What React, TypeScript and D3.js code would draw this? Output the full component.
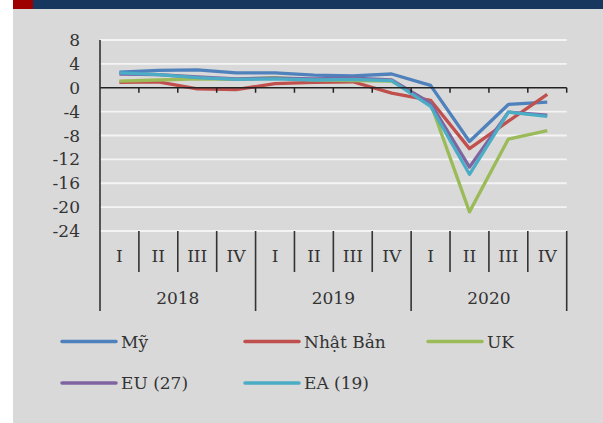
import React from "react";
import * as d3 from "d3";

const quarters = ["I", "II", "III", "IV", "I", "II", "III", "IV", "I", "II", "III", "IV"];
const years = ["2018", "2019", "2020"];
const yTicks = [8, 4, 0, -4, -8, -12, -16, -20, -24];

const seriesNames = ["Mỹ", "Nhật Bản", "UK", "EU (27)", "EA (19)"];
const seriesColors = ["#4f81bd", "#c0504d", "#9bbb59", "#8064a2", "#4bacc6"];
const my = [2.6, 2.9, 3.0, 2.5, 2.5, 2.1, 2.0, 2.3, 0.4, -9.0, -2.8, -2.4];
const nhatBan = [0.9, 1.0, -0.2, -0.3, 0.7, 0.9, 1.0, -0.9, -2.1, -10.2, -5.6, -1.1];
const uk = [1.1, 1.3, 1.5, 1.4, 1.7, 1.3, 1.2, 1.1, -2.6, -20.8, -8.6, -7.2];
const eu27 = [2.3, 2.2, 1.8, 1.5, 1.6, 1.5, 1.6, 1.3, -2.6, -13.3, -4.1, -4.6];
const ea19 = [2.5, 2.2, 1.7, 1.4, 1.5, 1.3, 1.4, 1.2, -3.1, -14.5, -4.1, -4.8];
const seriesValues = [my, nhatBan, uk, eu27, ea19];

const W = 603;
const H = 423;
const FONT = "'DejaVu Serif', serif";
const TXT = "#333333";
const FS = 17;

export default function App() {
  const left = 100;
  const right = 566.7;
  const top = 40;
  const bottom = 231;
  const x = d3.scaleBand<number>().domain(d3.range(quarters.length)).range([left, right]).padding(0);
  const y = d3.scaleLinear().domain([-24, 8]).range([bottom, top]);
  const bw = x.bandwidth();
  const line = d3
    .line<number>()
    .x((_, i) => (x(i) as number) + bw / 2)
    .y((d) => y(d))
    .curve(d3.curveLinear);

  const legendPos = [
    { lx: 62, ly: 341.5 },
    { lx: 245, ly: 341.5 },
    { lx: 428, ly: 341.5 },
    { lx: 62, ly: 383 },
    { lx: 245, ly: 383 },
  ];

  return (
    <svg width={W} height={H} style={{ position: "absolute", left: 0, top: 0 }}>
      <rect x={0} y={0} width={W} height={H} fill="#ffffff" />
      <rect x={13} y={9} width={W - 13} height={H - 9} fill="#d9d9d9" />
      <rect x={13} y={0} width={20} height={9} fill="#9e0000" />
      <rect x={33} y={0} width={W - 33} height={9} fill="#17375e" />

      {yTicks.map((t) => (
        <g key={t}>
          {t !== 0 && (
            <line x1={left} x2={right} y1={y(t)} y2={y(t)} stroke="#f4f4f4" strokeWidth={1.8} />
          )}
          <text x={80} y={y(t)} dy="0.36em" textAnchor="end" fontFamily={FONT} fontSize={FS} fill={TXT}>
            {t}
          </text>
        </g>
      ))}

      {seriesValues.map((vals, k) => (
        <path key={k} d={line(vals) || ""} fill="none" stroke={seriesColors[k]} strokeWidth={3.3} strokeLinejoin="round" />
      ))}

      {/* zero axis */}
      <line x1={left} x2={right} y1={y(0)} y2={y(0)} stroke="#222" strokeWidth={1.5} />
      {d3.range(1, quarters.length + 1).map((i) => {
        const xx = i < quarters.length ? (x(i) as number) : right;
        return <line key={i} x1={xx} x2={xx} y1={y(0)} y2={y(0) + 5} stroke="#222" strokeWidth={1.5} />;
      })}

      {/* vertical axis */}
      <line x1={left} x2={left} y1={top} y2={311} stroke="#333" strokeWidth={1.6} />

      {/* category separators */}
      {d3.range(1, quarters.length + 1).map((i) => {
        const xx = i < quarters.length ? (x(i) as number) : right;
        const isYear = i % 4 === 0;
        return (
          <line key={i} x1={xx} x2={xx} y1={bottom} y2={isYear ? 311 : 272} stroke="#333" strokeWidth={1.6} />
        );
      })}

      {quarters.map((q, i) => (
        <text
          key={i}
          x={(x(i) as number) + bw / 2}
          y={256}
          dy="0.36em"
          textAnchor="middle"
          fontFamily={FONT}
          fontSize={FS}
          fill={TXT}
        >
          {q}
        </text>
      ))}
      {years.map((yr, j) => (
        <text
          key={yr}
          x={((x(j * 4) as number) + ((j + 1) * 4 < quarters.length ? (x((j + 1) * 4) as number) : right)) / 2}
          y={298}
          dy="0.36em"
          textAnchor="middle"
          fontFamily={FONT}
          fontSize={FS}
          fill={TXT}
        >
          {yr}
        </text>
      ))}

      {seriesNames.map((n, k) => (
        <g key={n}>
          <line
            x1={legendPos[k].lx}
            x2={legendPos[k].lx + 54}
            y1={legendPos[k].ly}
            y2={legendPos[k].ly}
            stroke={seriesColors[k]}
            strokeWidth={3.5}
            strokeLinecap="round"
          />
          <text x={legendPos[k].lx + 59} y={legendPos[k].ly} dy="0.36em" fontFamily={FONT} fontSize={FS} fill={TXT}>
            {n}
          </text>
        </g>
      ))}
    </svg>
  );
}
